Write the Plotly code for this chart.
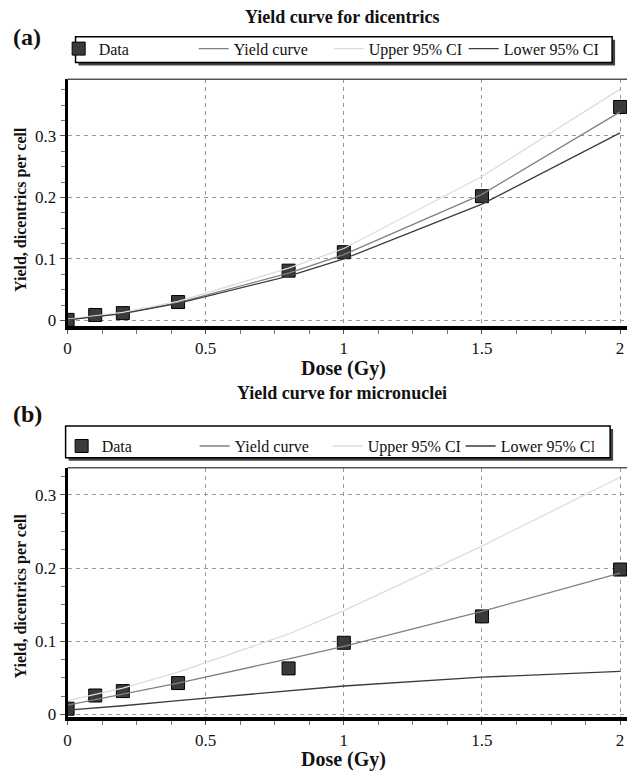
import plotly.graph_objects as go

# ---------------- data ----------------
dose = [0, 0.1, 0.2, 0.4, 0.8, 1.0, 1.5, 2.0]

# (a) dicentrics
dic_data = [0.001, 0.009, 0.012, 0.030, 0.081, 0.111, 0.202, 0.347]
dic_fit = [0.001, 0.006, 0.012, 0.029, 0.077, 0.107, 0.205, 0.339]
dic_upper = [0.002, 0.007, 0.013, 0.031, 0.085, 0.117, 0.234, 0.376]
dic_lower = [0.001, 0.006, 0.011, 0.028, 0.072, 0.100, 0.189, 0.305]

# (b) micronuclei
mn_data = [0.008, 0.026, 0.032, 0.043, 0.063, 0.098, 0.134, 0.198]
mn_fit = [0.013, 0.0205, 0.028, 0.043, 0.076, 0.093, 0.141, 0.193]
mn_upper = [0.019, 0.027, 0.036, 0.058, 0.110, 0.142, 0.230, 0.324]
mn_lower = [0.006, 0.009, 0.012, 0.019, 0.033, 0.039, 0.051, 0.059]

x_ticks = [0, 0.5, 1, 1.5, 2]
x_ticklabels = ["0", "0.5", "1", "1.5", "2"]
y_ticks = [0, 0.1, 0.2, 0.3]
y_ticklabels = ["0", "0.1", "0.2", "0.3"]

series_names = ["Data", "Yield curve", "Upper 95% CI", "Lower 95% CI"]
titles = ["Yield curve for dicentrics", "Yield curve for micronuclei"]
panel_labels = ["(a)", "(b)"]

# ---------------- figure ----------------
W, H = 628, 776
FONT = "Liberation Serif"
MARK_C = "#3a3a3a"
FIT_C = "#808080"
UP_C = "#dcdcdc"
LO_C = "#3c3c3c"


def py(px):
    return 1 - px / H


def pxx(px):
    return px / W


fig = go.Figure()

panels = [
    dict(data=dic_data, fit=dic_fit, up=dic_upper, lo=dic_lower, xa="x", ya="y",
         legend="legend", yrange=[-0.009, 0.392], top=80, bottom=329),
    dict(data=mn_data, fit=mn_fit, up=mn_upper, lo=mn_lower, xa="x2", ya="y2",
         legend="legend2", yrange=[-0.004, 0.337], top=472, bottom=724),
]

for p in panels:
    fig.add_trace(go.Scatter(x=dose, y=p["data"], mode="markers", name=series_names[0],
                             xaxis=p["xa"], yaxis=p["ya"], legend=p["legend"],
                             marker=dict(symbol="square", size=13, color=MARK_C,
                                         line=dict(color="#000", width=1))))
    fig.add_trace(go.Scatter(x=dose, y=p["fit"], mode="lines", name=series_names[1],
                             xaxis=p["xa"], yaxis=p["ya"], legend=p["legend"],
                             line=dict(color=FIT_C, width=1.3)))
    fig.add_trace(go.Scatter(x=dose, y=p["up"], mode="lines", name=series_names[2],
                             xaxis=p["xa"], yaxis=p["ya"], legend=p["legend"],
                             line=dict(color=UP_C, width=1.3)))
    fig.add_trace(go.Scatter(x=dose, y=p["lo"], mode="lines", name=series_names[3],
                             xaxis=p["xa"], yaxis=p["ya"], legend=p["legend"],
                             line=dict(color=LO_C, width=1.3)))

xdom = [pxx(64), pxx(627)]

common_x = dict(range=[0, 2.025], tickvals=x_ticks, ticktext=x_ticklabels,
                showgrid=True, gridcolor="#9a9a9a", griddash="4px,4px", gridwidth=1,
                showline=True, linecolor="#000", linewidth=4,
                ticks="outside", ticklen=4, tickcolor="#555",
                minor=dict(dtick=0.125, ticks="outside", ticklen=4, tickcolor="#777", showgrid=False),
                tickfont=dict(family=FONT, size=17, color="#111"), zeroline=False,
                domain=xdom, fixedrange=True)
common_y = dict(tickvals=y_ticks, ticktext=y_ticklabels,
                showgrid=True, gridcolor="#9a9a9a", griddash="4px,4px", gridwidth=1,
                showline=True, linecolor="#000", linewidth=3,
                ticks="outside", ticklen=5, tickcolor="#555",
                minor=dict(dtick=0.025, ticks="outside", ticklen=4, tickcolor="#777", showgrid=False),
                tickfont=dict(family=FONT, size=17, color="#111"), zeroline=False,
                fixedrange=True)

fig.update_layout(
    width=W, height=H, margin=dict(l=0, r=0, t=0, b=0),
    paper_bgcolor="white", plot_bgcolor="white",
    font=dict(family=FONT, color="#111"),
    xaxis=dict(common_x, anchor="y"),
    yaxis=dict(common_y, range=panels[0]["yrange"],
               domain=[py(panels[0]["bottom"]), py(panels[0]["top"])], anchor="x"),
    xaxis2=dict(common_x, anchor="y2"),
    yaxis2=dict(common_y, range=panels[1]["yrange"],
                domain=[py(panels[1]["bottom"]), py(panels[1]["top"])], anchor="x2"),
    showlegend=True,
)

legend_common = dict(orientation="h", xanchor="left", yanchor="top",
                     bgcolor="rgba(0,0,0,0)", borderwidth=0,
                     font=dict(family=FONT, size=16, color="#111"),
                     itemwidth=30, tracegroupgap=0)
fig.update_layout(
    legend=dict(legend_common, x=pxx(55), y=py(32), entrywidth=90),
    legend2=dict(legend_common, x=pxx(58), y=py(433), entrywidth=88),
)

# legend frames with drop shadow (drawn under the legend items)
for (x0, y0, x1, y1) in [(72, 37, 612, 63), (62, 430, 610, 462)]:
    fig.add_shape(type="rect", xref="paper", yref="paper",
                  x0=pxx(x0 + 3), x1=pxx(x1 + 3), y0=py(y1 + 3), y1=py(y0 + 3),
                  fillcolor="#444", line=dict(width=0))
    fig.add_shape(type="rect", xref="paper", yref="paper",
                  x0=pxx(x0), x1=pxx(x1), y0=py(y1), y1=py(y0),
                  fillcolor="white", line=dict(color="#000", width=1.5))

# top border of plotting areas
for p in panels:
    fig.add_shape(type="line", xref="paper", yref="paper",
                  x0=xdom[0], x1=xdom[1], y0=py(p["top"]), y1=py(p["top"]),
                  line=dict(color="#555", width=1.5))

ann = []
for title, lab, ty, ly, xty, yty in [
    (titles[0], panel_labels[0], 17, 37, 372, 211),
    (titles[1], panel_labels[1], 397, 418, 766, 601),
]:
    ann.append(dict(text="<b>%s</b>" % title, x=pxx(340), y=py(ty), xref="paper", yref="paper",
                    showarrow=False, xanchor="center", yanchor="middle",
                    font=dict(family=FONT, size=18, color="#111")))
    ann.append(dict(text="<b>%s</b>" % lab, x=pxx(7), y=py(ly), xref="paper", yref="paper",
                    showarrow=False, xanchor="left", yanchor="middle",
                    font=dict(family=FONT, size=24, color="#111")))
    ann.append(dict(text="<b>Dose (Gy)</b>", x=pxx(342), y=py(xty), xref="paper", yref="paper",
                    showarrow=False, xanchor="center", yanchor="middle",
                    font=dict(family=FONT, size=20, color="#111")))
    ann.append(dict(text="<b>Yield, dicentrics per cell</b>", x=pxx(17), y=py(yty),
                    xref="paper", yref="paper", textangle=-90,
                    showarrow=False, xanchor="center", yanchor="middle",
                    font=dict(family=FONT, size=16, color="#111")))
fig.update_layout(annotations=ann)

fig.write_html("out.html")
